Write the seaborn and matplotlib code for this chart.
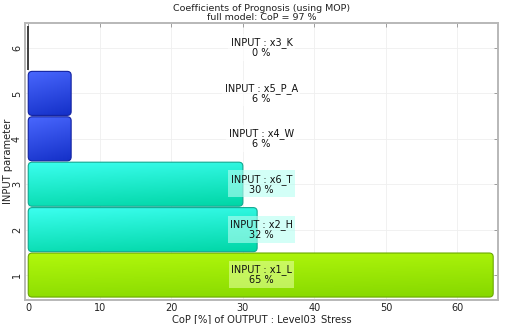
import numpy as np
import pandas as pd
import matplotlib
matplotlib.use("Agg")
import matplotlib.pyplot as plt
from matplotlib.colors import LinearSegmentedColormap
from matplotlib.patches import FancyBboxPatch
import seaborn as sns

# Coefficients of prognosis per input parameter (bottom to top)
positions = [1, 2, 3, 4, 5, 6]
parameters = ["x1_L", "x2_H", "x6_T", "x4_W", "x5_P_A", "x3_K"]
cop_values = [65, 32, 30, 6, 6, 0]
full_model_cop = 97
output_name = "Level03_Stress"

# colour family of each bar: (top colour, bottom colour, edge colour, label box)
bar_styles = {
    "x1_L": ("#b2f80c", "#86d800", "#6aa800", "#e2ff9a"),
    "x2_H": ("#3cfff0", "#00d6a6", "#10a890", "#b6fff2"),
    "x6_T": ("#3cfff0", "#00d6a6", "#10a890", "#b6fff2"),
    "x4_W": ("#4a68ff", "#1430c8", "#1020a0", "#ffffff"),
    "x5_P_A": ("#4a68ff", "#1430c8", "#1020a0", "#ffffff"),
    "x3_K": ("#404040", "#404040", "#303030", "#ffffff"),
}

df = pd.DataFrame({"pos": positions, "param": parameters, "cop": cop_values})

sns.set_theme(style="white")
plt.rcParams["font.family"] = ["DejaVu Sans"]

fig = plt.figure(figsize=(5.25, 3.24), dpi=100)
ax = fig.add_axes([0.047, 0.074, 0.902, 0.855])

sns.barplot(data=df, x="cop", y="pos", orient="h", native_scale=True,
            width=0.97, color="#cccccc", ax=ax, zorder=2)

xlim = (-0.5, 65.7)
ylim = (0.45, 6.55)
ax.set_xlim(*xlim)
ax.set_ylim(*ylim)

# pixel scale used to keep the rounded corners circular
bb = ax.get_window_extent()
px_x = bb.width / (xlim[1] - xlim[0])
px_y = bb.height / (ylim[1] - ylim[0])
aspect = px_x / px_y

bars = list(ax.patches)
for bar, name in zip(bars, df["param"]):
    x0, y0 = bar.get_x(), bar.get_y()
    w, h = bar.get_width(), bar.get_height()
    bar.remove()
    top, bottom, edge, _ = bar_styles[name]
    if w <= 0:
        ax.plot([x0, x0], [y0, y0 + h], color=edge, lw=1.3, zorder=3,
                solid_capstyle="butt")
        continue
    r = min(4.0 / px_x, w / 2)
    shape = FancyBboxPatch((x0, y0), w, h,
                           boxstyle=f"round,pad=0,rounding_size={r}",
                           mutation_aspect=aspect,
                           facecolor="none", edgecolor=edge, lw=0.8, zorder=3)
    ax.add_patch(shape)
    cmap = LinearSegmentedColormap.from_list(name, [top, bottom])
    u = np.linspace(0, 1, 120)[None, :]
    v = np.linspace(0, 1, 60)[:, None]
    grad = 0.8 * v + 0.2 * u
    im = ax.imshow(grad, cmap=cmap, extent=(x0, x0 + w, y0, y0 + h),
                   aspect="auto", origin="upper", zorder=2.5,
                   interpolation="bilinear")
    im.set_clip_path(shape)

ax.set_xlim(*xlim)
ax.set_ylim(*ylim)

# parameter labels in the middle of the axes
xc = (xlim[0] + xlim[1]) / 2
for pos, name, val in zip(df["pos"], df["param"], df["cop"]):
    box = bar_styles[name][3]
    ax.text(xc, pos, f"INPUT : {name}\n{val:.0f} %", ha="center", va="center",
            fontsize=7, color="#111111", linespacing=1.0, zorder=5,
            bbox=dict(boxstyle="square,pad=0.25", facecolor=box,
                      edgecolor="none", alpha=0.6))

ax.set_xticks([0, 10, 20, 30, 40, 50, 60])
ax.set_yticks(positions)
ax.set_yticklabels([str(p) for p in positions], rotation=90, va="center")
ax.tick_params(axis="both", which="both", direction="in", length=3,
               width=0.6, color="#909090", labelsize=7, labelcolor="#222222",
               top=True, right=True, pad=2)
ax.grid(True, color="#efefef", lw=0.6, zorder=0)
ax.set_axisbelow(True)
for sp in ax.spines.values():
    sp.set_color("#b8b8b8")
    sp.set_linewidth(1.4)

ax.set_xlabel(f"CoP [%] of OUTPUT : {output_name}", fontsize=7.2,
              color="#222222", labelpad=1)
ax.set_ylabel("INPUT parameter", fontsize=7.2, color="#222222")
ax.yaxis.set_label_coords(-0.024, 0.5)
ax.set_title(f"Coefficients of Prognosis (using MOP)\nfull model: CoP = {full_model_cop} %",
             fontsize=6.8, color="#222222", pad=2, linespacing=1.05)

fig.savefig("out.png", dpi=100, facecolor="white")
